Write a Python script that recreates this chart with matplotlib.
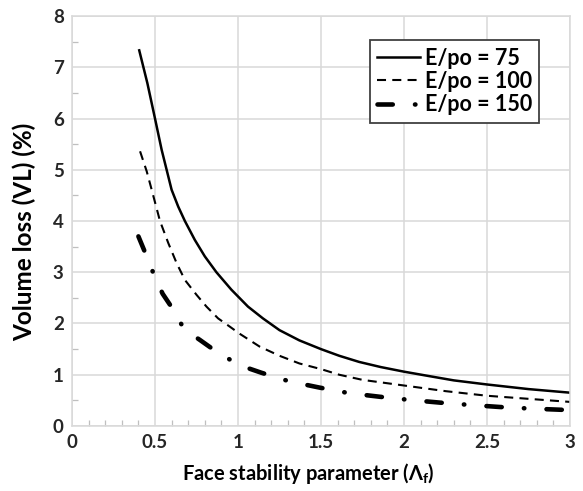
import matplotlib
matplotlib.use("Agg")
import matplotlib.pyplot as plt
from matplotlib.ticker import MultipleLocator

plt.rcParams['font.family'] = ['Lato', 'DejaVu Sans']
plt.rcParams['font.weight'] = 'bold'
plt.rcParams['mathtext.fontset'] = 'custom'
plt.rcParams['mathtext.bf'] = 'Lato:bold'
plt.rcParams['mathtext.rm'] = 'Lato:bold'
plt.rcParams['mathtext.default'] = 'bf'
plt.rcParams['lines.scale_dashes'] = False

# Valores
x_75 = [0.405, 0.454, 0.5, 0.54, 0.57, 0.6, 0.64, 0.68, 0.74, 0.8, 0.87, 0.96, 1.06,
        1.15, 1.25, 1.37, 1.5, 1.61, 1.73, 1.86, 2.0, 2.14, 2.3, 2.5, 2.75, 3.0]
vl_75 = [7.33, 6.69, 6.0, 5.39, 5.0, 4.61, 4.28, 4.0, 3.63, 3.31, 3.0, 2.66, 2.33,
         2.10, 1.87, 1.67, 1.5, 1.37, 1.25, 1.15, 1.06, 0.98, 0.89, 0.81, 0.72, 0.65]

x_100 = [0.41, 0.45, 0.48, 0.53, 0.58, 0.63, 0.68, 0.75, 0.81, 0.88, 0.95, 1.01, 1.13,
         1.25, 1.37, 1.5, 1.61, 1.75, 2.0, 2.25, 2.5, 2.75, 3.0]
vl_100 = [5.36, 4.97, 4.61, 4.0, 3.57, 3.18, 2.85, 2.56, 2.33, 2.10, 1.94, 1.80, 1.55,
          1.37, 1.22, 1.11, 1.0, 0.9, 0.79, 0.68, 0.59, 0.53, 0.47]

x_150 = [0.4, 0.446, 0.494, 0.546, 0.61, 0.67, 0.72, 0.77, 0.87, 0.97, 1.05, 1.14, 1.31,
         1.49, 1.67, 1.855, 2.03, 2.22, 2.4, 2.58, 2.76, 3.0]
vl_150 = [3.7, 3.34, 2.95, 2.58, 2.27, 1.92, 1.79, 1.68, 1.45, 1.26, 1.14, 1.04, 0.87,
          0.75, 0.64, 0.57, 0.51, 0.455, 0.41, 0.37, 0.34, 0.31]

labels = ['E/po = 75', 'E/po = 100', 'E/po = 150']

fig = plt.figure(figsize=(5.83, 4.91), dpi=100)
ax = fig.add_axes([0.1235, 0.1324, 0.8542, 0.835])

ax.plot(x_75, vl_75, color='black', lw=1.8, label=labels[0])
ax.plot(x_100, vl_100, color='black', lw=1.5, linestyle=(0, (6.5, 4.5)), label=labels[1])
ax.plot(x_150, vl_150, color='black', lw=3.3, linestyle=(0, (11, 16, 0.3, 16)),
        dash_capstyle='round', label=labels[2])

ax.set_xlim(0, 3)
ax.set_ylim(0, 8)
ax.xaxis.set_major_locator(MultipleLocator(0.5))
ax.xaxis.set_minor_locator(MultipleLocator(0.1))
ax.yaxis.set_major_locator(MultipleLocator(1))
ax.yaxis.set_minor_locator(MultipleLocator(0.5))
ax.xaxis.set_major_formatter(plt.FuncFormatter(lambda v, p: f'{v:g}'))

grid_c = '#d9d9d9'
ax.grid(True, which='major', color=grid_c, lw=1.1)
ax.set_axisbelow(True)
for s in ax.spines.values():
    s.set_color(grid_c)
    s.set_linewidth(1.1)
ax.tick_params(which='major', length=0, labelsize=13.5, colors='#262626', pad=6)
ax.tick_params(which='minor', direction='in', length=4, color='#bfbfbf', width=0.9)

ax.set_xlabel('Face stability parameter (Λ$_{f}$)', fontsize=14.5, fontweight='bold')
ax.xaxis.set_label_coords(0.475, -0.085)
ax.set_ylabel('Volume loss (VL) (%)', fontsize=17.5, fontweight='bold')
ax.yaxis.set_label_coords(-0.072, 0.473)

leg = ax.legend(loc='upper left', bbox_to_anchor=(0.598, 0.941), fontsize=15.5,
                frameon=True, fancybox=False, handlelength=2.0, handletextpad=0.2,
                borderpad=0.35, labelspacing=0.1, borderaxespad=0)
leg.get_frame().set_edgecolor('#404040')
leg.get_frame().set_linewidth(1.3)
leg.get_frame().set_alpha(1)

fig.savefig('out.png', dpi=100)
